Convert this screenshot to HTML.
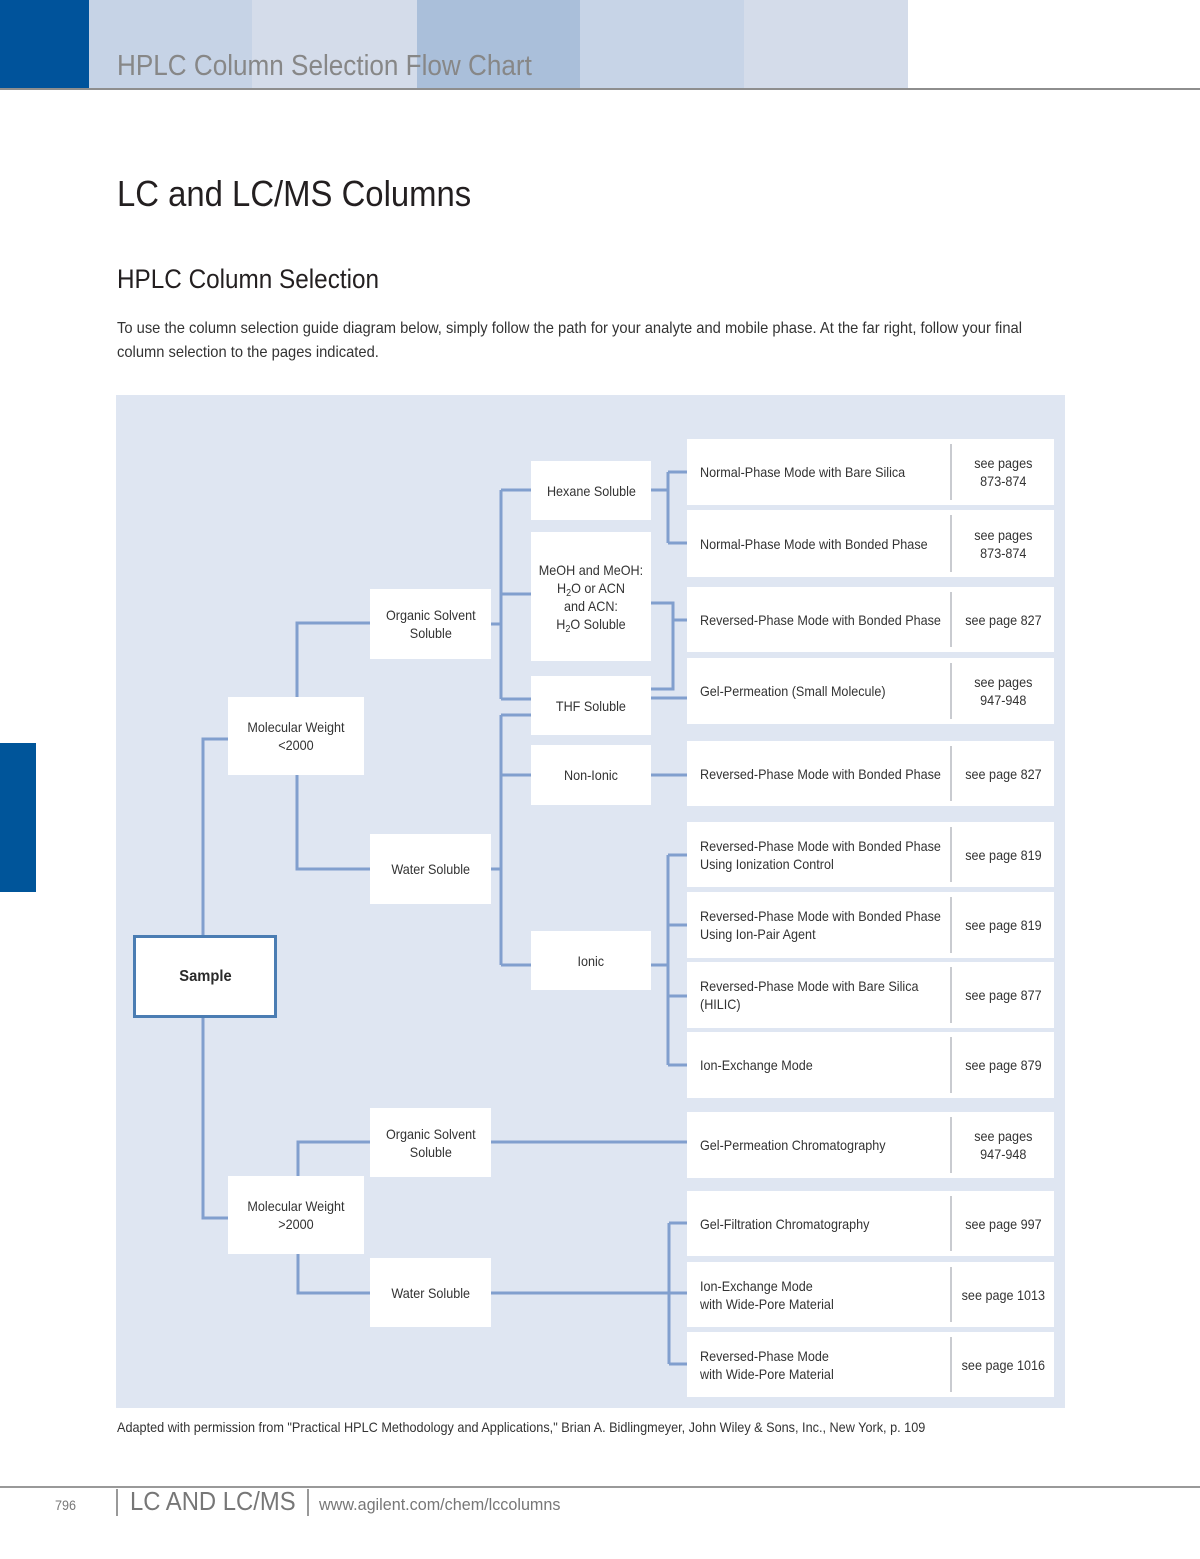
<!DOCTYPE html>
<html><head><meta charset="utf-8">
<style>
*{margin:0;padding:0;box-sizing:border-box}
body{width:1200px;height:1559px;position:relative;overflow:hidden;background:#fff;font-family:"Liberation Sans",Arial,sans-serif;}
.abs{position:absolute}
.t{position:absolute;white-space:nowrap;transform-origin:0 50%;}
.n{position:absolute;background:#fff;display:flex;align-items:center;justify-content:center;text-align:center;font-size:14px;line-height:18px;color:#333;}
.n span{display:inline-block;transform:scaleX(.9);white-space:nowrap;}
.n sub{font-size:10px;line-height:0;vertical-align:-3px}
.r{position:absolute;left:687px;width:367px;background:#fff;font-size:14px;line-height:18px;color:#333;}
.r .a{position:absolute;left:13px;top:0;bottom:0;display:flex;align-items:center;}
.r .a span{display:inline-block;transform:scaleX(.9);transform-origin:0 50%;white-space:nowrap;}
.r .d{position:absolute;left:263px;top:5px;bottom:5px;width:2px;background:#c9cbd0;}
.r .b{position:absolute;left:265px;right:0;top:0;bottom:0;display:flex;align-items:center;justify-content:center;text-align:center;}
.r .b span{display:inline-block;transform:scaleX(.9);white-space:nowrap;}
</style></head><body>

<!-- header -->
<div class="abs" style="left:0;top:0;width:89px;height:88px;background:#00539b"></div>
<div class="abs" style="left:89px;top:0;width:163px;height:88px;background:#c6d3e6"></div>
<div class="abs" style="left:252px;top:0;width:165px;height:88px;background:#d4dcea"></div>
<div class="abs" style="left:417px;top:0;width:163px;height:88px;background:#aabfda"></div>
<div class="abs" style="left:580px;top:0;width:164px;height:88px;background:#c7d4e7"></div>
<div class="abs" style="left:744px;top:0;width:164px;height:88px;background:#d4dcea"></div>
<div class="abs" style="left:0;top:88px;width:1200px;height:2px;background:#8e8e8e"></div>
<div class="t" style="left:117px;top:48px;font-size:29px;line-height:36px;color:#878787;transform:scaleX(.9)">HPLC Column Selection Flow Chart</div>

<!-- titles -->
<div class="t" style="left:117px;top:172px;font-size:36.5px;line-height:44px;color:#231f20;transform:scaleX(.9)">LC and LC/MS Columns</div>
<div class="t" style="left:117px;top:262px;font-size:27px;line-height:34px;color:#231f20;transform:scaleX(.9)">HPLC Column Selection</div>
<div class="t" style="left:117px;top:319px;font-size:16px;line-height:20px;color:#333;transform:scaleX(.92)">To use the column selection guide diagram below, simply follow the path for your analyte and mobile phase. At the far right, follow your final</div>
<div class="t" style="left:117px;top:343px;font-size:16px;line-height:20px;color:#333;transform:scaleX(.92)">column selection to the pages indicated.</div>

<!-- side tab -->
<div class="abs" style="left:0;top:743px;width:36px;height:149px;background:#00559a"></div>

<!-- diagram background -->
<div class="abs" style="left:116px;top:395px;width:949px;height:1013px;background:#dfe6f2"></div>

<!-- connectors -->
<svg class="abs" style="left:0;top:0" width="1200" height="1559" viewBox="0 0 1200 1559">
<g fill="none" stroke="#819fce" stroke-width="3">
<path d="M203 935 V739 H228"/>
<path d="M203 1018 V1218 H228"/>
<path d="M297 697 V623 H370"/>
<path d="M297 775 V869 H370"/>
<path d="M491 624 H501"/>
<path d="M501 490 V699"/>
<path d="M501 490 H531 M501 594 H531 M501 699 H531"/>
<path d="M491 869 H501"/>
<path d="M501 715 V965"/>
<path d="M501 715 H531 M501 775 H531 M501 965 H531"/>
<path d="M651 490 H668"/>
<path d="M668 472 V543"/>
<path d="M668 472 H687 M668 543 H687"/>
<path d="M651 603 H673 V689 H651"/>
<path d="M673 620 H687"/>
<path d="M651 698 H687"/>
<path d="M651 775 H687"/>
<path d="M651 965 H668"/>
<path d="M668 855 V1065"/>
<path d="M668 855 H687 M668 925 H687 M668 996 H687 M668 1065 H687"/>
<path d="M298 1176 V1142 H370"/>
<path d="M298 1254 V1293 H370"/>
<path d="M491 1142 H687"/>
<path d="M491 1293 H687"/>
<path d="M669 1223 V1364"/>
<path d="M669 1223 H687 M669 1364 H687"/>
</g>
</svg>

<!-- sample -->
<div class="abs" style="left:133px;top:935px;width:144px;height:83px;background:#fff;border:3px solid #4b7db3;display:flex;align-items:center;justify-content:center;">
<span style="display:inline-block;font-size:16px;font-weight:bold;color:#2a2a2a;transform:scaleX(.92)">Sample</span></div>

<!-- level 1 -->
<div class="n" style="left:228px;top:697px;width:136px;height:78px"><span>Molecular Weight<br>&lt;2000</span></div>
<div class="n" style="left:228px;top:1176px;width:136px;height:78px"><span>Molecular Weight<br>&gt;2000</span></div>

<!-- level 2 -->
<div class="n" style="left:370px;top:589px;width:121px;height:70px"><span>Organic Solvent<br>Soluble</span></div>
<div class="n" style="left:370px;top:834px;width:121px;height:70px"><span>Water Soluble</span></div>
<div class="n" style="left:370px;top:1108px;width:121px;height:69px"><span>Organic Solvent<br>Soluble</span></div>
<div class="n" style="left:370px;top:1258px;width:121px;height:69px"><span>Water Soluble</span></div>

<!-- level 3 -->
<div class="n" style="left:531px;top:461px;width:120px;height:59px"><span>Hexane Soluble</span></div>
<div class="n" style="left:531px;top:532px;width:120px;height:129px"><span>MeOH and MeOH:<br>H<sub>2</sub>O or ACN<br>and ACN:<br>H<sub>2</sub>O Soluble</span></div>
<div class="n" style="left:531px;top:676px;width:120px;height:59px"><span>THF Soluble</span></div>
<div class="n" style="left:531px;top:745px;width:120px;height:60px"><span>Non-Ionic</span></div>
<div class="n" style="left:531px;top:931px;width:120px;height:59px"><span>Ionic</span></div>

<!-- result boxes -->
<div class="r" style="top:439px;height:66px"><div class="a"><span>Normal-Phase Mode with Bare Silica</span></div><div class="d"></div><div class="b"><span>see pages<br>873-874</span></div></div>
<div class="r" style="top:510px;height:67px"><div class="a"><span>Normal-Phase Mode with Bonded Phase</span></div><div class="d"></div><div class="b"><span>see pages<br>873-874</span></div></div>
<div class="r" style="top:587px;height:65px"><div class="a"><span>Reversed-Phase Mode with Bonded Phase</span></div><div class="d"></div><div class="b"><span>see page 827</span></div></div>
<div class="r" style="top:658px;height:66px"><div class="a"><span>Gel-Permeation (Small Molecule)</span></div><div class="d"></div><div class="b"><span>see pages<br>947-948</span></div></div>
<div class="r" style="top:741px;height:65px"><div class="a"><span>Reversed-Phase Mode with Bonded Phase</span></div><div class="d"></div><div class="b"><span>see page 827</span></div></div>
<div class="r" style="top:822px;height:65px"><div class="a"><span>Reversed-Phase Mode with Bonded Phase<br>Using Ionization Control</span></div><div class="d"></div><div class="b"><span>see page 819</span></div></div>
<div class="r" style="top:892px;height:66px"><div class="a"><span>Reversed-Phase Mode with Bonded Phase<br>Using Ion-Pair Agent</span></div><div class="d"></div><div class="b"><span>see page 819</span></div></div>
<div class="r" style="top:962px;height:66px"><div class="a"><span>Reversed-Phase Mode with Bare Silica<br>(HILIC)</span></div><div class="d"></div><div class="b"><span>see page 877</span></div></div>
<div class="r" style="top:1032px;height:66px"><div class="a"><span>Ion-Exchange Mode</span></div><div class="d"></div><div class="b"><span>see page 879</span></div></div>
<div class="r" style="top:1112px;height:66px"><div class="a"><span>Gel-Permeation Chromatography</span></div><div class="d"></div><div class="b"><span>see pages<br>947-948</span></div></div>
<div class="r" style="top:1191px;height:65px"><div class="a"><span>Gel-Filtration Chromatography</span></div><div class="d"></div><div class="b"><span>see page 997</span></div></div>
<div class="r" style="top:1262px;height:65px"><div class="a"><span>Ion-Exchange Mode<br>with Wide-Pore Material</span></div><div class="d"></div><div class="b"><span>see page 1013</span></div></div>
<div class="r" style="top:1332px;height:65px"><div class="a"><span>Reversed-Phase Mode<br>with Wide-Pore Material</span></div><div class="d"></div><div class="b"><span>see page 1016</span></div></div>

<!-- caption -->
<div class="t" style="left:117px;top:1418px;font-size:14px;line-height:18px;color:#333;transform:scaleX(.905)">Adapted with permission from "Practical HPLC Methodology and Applications," Brian A. Bidlingmeyer, John Wiley &amp; Sons, Inc., New York, p. 109</div>

<!-- footer -->
<div class="abs" style="left:0;top:1486px;width:1200px;height:2px;background:#999"></div>
<div class="t" style="left:55px;top:1496px;font-size:14px;line-height:18px;color:#777;transform:scaleX(.9)">796</div>
<div class="abs" style="left:116px;top:1489px;width:1.5px;height:27px;background:#999"></div>
<div class="t" style="left:130px;top:1486px;font-size:25.5px;line-height:32px;color:#777;transform:scaleX(.935)">LC AND LC/MS</div>
<div class="abs" style="left:307px;top:1489px;width:1.5px;height:27px;background:#999"></div>
<div class="t" style="left:319px;top:1494px;font-size:17px;line-height:22px;color:#777;transform:scaleX(.95)">www.agilent.com/chem/lccolumns</div>

</body></html>
